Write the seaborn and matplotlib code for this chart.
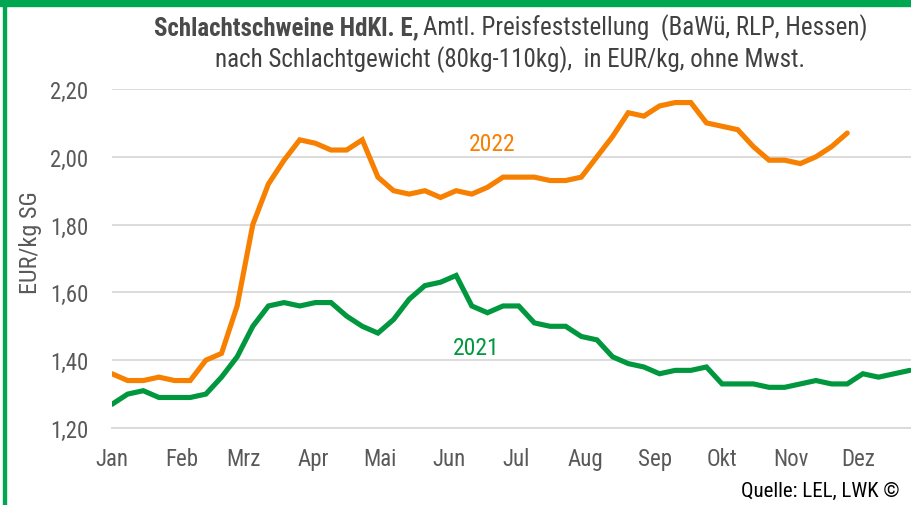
import numpy as np
import pandas as pd
import matplotlib.pyplot as plt
import seaborn as sns
from matplotlib.patches import Rectangle

# weekly prices, EUR/kg SG (KW 1..52)
kw_2021 = list(range(1, 53))
preis_2021 = [1.27, 1.30, 1.31, 1.29, 1.29, 1.29, 1.30, 1.35, 1.41, 1.50,
              1.56, 1.57, 1.56, 1.57, 1.57, 1.53, 1.50, 1.48, 1.52, 1.58,
              1.62, 1.63, 1.65, 1.56, 1.54, 1.56, 1.56, 1.51, 1.50, 1.50,
              1.47, 1.46, 1.41, 1.39, 1.38, 1.36, 1.37, 1.37, 1.38, 1.33,
              1.33, 1.33, 1.32, 1.32, 1.33, 1.34, 1.33, 1.33, 1.36, 1.35,
              1.36, 1.37]

kw_2022 = list(range(1, 49))
preis_2022 = [1.36, 1.34, 1.34, 1.35, 1.34, 1.34, 1.40, 1.42, 1.56, 1.80,
              1.92, 1.99, 2.05, 2.04, 2.02, 2.02, 2.05, 1.94, 1.90, 1.89,
              1.90, 1.88, 1.90, 1.89, 1.91, 1.94, 1.94, 1.94, 1.93, 1.93,
              1.94, 2.00, 2.06, 2.13, 2.12, 2.15, 2.16, 2.16, 2.10, 2.09,
              2.08, 2.03, 1.99, 1.99, 1.98, 2.00, 2.03, 2.07]

monate = ['Jan', 'Feb', 'Mrz', 'Apr', 'Mai', 'Jun', 'Jul', 'Aug', 'Sep',
          'Okt', 'Nov', 'Dez']
monat_start_tag = [0, 31, 59, 90, 120, 151, 181, 212, 243, 273, 304, 334]
y_ticks = [1.20, 1.40, 1.60, 1.80, 2.00, 2.20]

col_2021 = '#00973f'
col_2022 = '#f78000'
grid_col = '#d9d9d9'
txt_col = '#595959'

sns.set_style('white')
plt.rcParams['font.family'] = ['Liberation Sans Narrow', 'Roboto Condensed',
                               'DejaVu Sans Condensed', 'Liberation Sans']
plt.rcParams['font.stretch'] = 'condensed'

fig = plt.figure(figsize=(9.12, 5.06), dpi=100)
ax = fig.add_axes([112 / 912, 1 - 429 / 506, 800 / 912, 339 / 506])

df21 = pd.DataFrame({'kw': kw_2021, 'preis': preis_2021})
df22 = pd.DataFrame({'kw': kw_2022, 'preis': preis_2022})
sns.lineplot(data=df21, x='kw', y='preis', color=col_2021, lw=3.7, ax=ax,
             solid_joinstyle='miter', zorder=3)
sns.lineplot(data=df22, x='kw', y='preis', color=col_2022, lw=3.7, ax=ax,
             solid_joinstyle='miter', zorder=3)

ax.set_xlim(1, 52.14)
ax.set_ylim(1.2, 2.2)
ax.set_yticks(y_ticks)
ax.set_yticklabels([f'{v:.2f}'.replace('.', ',') for v in y_ticks])
ax.set_xticks([1 + d / 7 for d in monat_start_tag])
ax.set_xticklabels(monate)

ax.grid(axis='y', color=grid_col, lw=1.3)
ax.set_axisbelow(True)
for s in ['top', 'right', 'left']:
    ax.spines[s].set_visible(False)
ax.spines['bottom'].set_color(grid_col)
ax.spines['bottom'].set_linewidth(1.3)
ax.tick_params(axis='x', direction='out', length=5.5, width=1.3,
               color=grid_col, labelsize=16.5, labelcolor=txt_col, pad=8)
ax.tick_params(axis='y', length=0, labelsize=16.5, labelcolor=txt_col, pad=17)
ax.set_xlabel('')
ax.set_ylabel('EUR/kg SG', fontsize=17.5, color=txt_col)
ax.yaxis.set_label_coords(-0.087, 0.549)

ax.text(25.33, 2.04, '2022', color=col_2022, fontsize=17, ha='center', va='center')
ax.text(24.31, 1.437, '2021', color=col_2021, fontsize=17, ha='center', va='center')

# title, bold part + normal part
fig.text(419 / 912, 1 - 28 / 506, 'Schlachtschweine HdKl. E,', fontsize=18,
         fontweight='bold', color='#4a4a4a', ha='right', va='center')
fig.text(423 / 912, 1 - 28 / 506, 'Amtl. Preisfeststellung  (BaWü, RLP, Hessen)',
         fontsize=18, color='#404040', ha='left', va='center')
fig.text(510 / 912, 1 - 60 / 506,
         'nach Schlachtgewicht (80kg-110kg),  in EUR/kg, ohne Mwst.',
         fontsize=18, color='#404040', ha='center', va='center')

fig.text(900 / 912, 1 - 491 / 506, 'Quelle: LEL, LWK ©', fontsize=15,
         color='black', ha='right', va='center')

# green frame (top and left)
fig.patches.append(Rectangle((0, 1 - 7 / 506), 1, 7 / 506, transform=fig.transFigure,
                             color='#00a650', zorder=10))
fig.patches.append(Rectangle((3 / 912, 0), 3.5 / 912, 1, transform=fig.transFigure,
                             color='#00a650', zorder=10))

fig.savefig('out.png', dpi=100)
